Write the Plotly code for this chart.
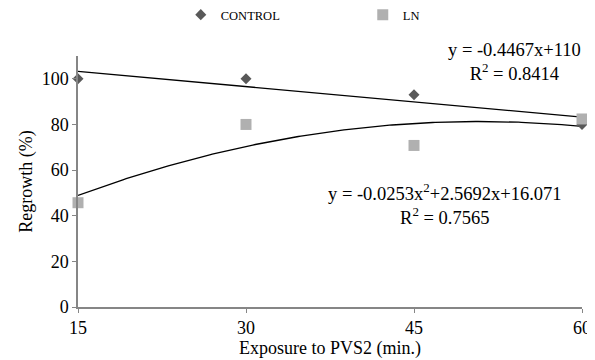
import numpy as np
import plotly.graph_objects as go

exposure = [15, 30, 45, 60]
control = [100, 100, 93, 80]
ln = [45.7, 80, 70.8, 82.4]
x_ticks = [15, 30, 45, 60]
y_ticks = [0, 20, 40, 60, 80, 100]

eq_control = "y = -0.4467x+110<br>R<sup>2</sup> = 0.8414"
eq_ln = "y = -0.0253x<sup>2</sup>+2.5692x+16.071<br>R<sup>2</sup> = 0.7565"

FONT = "Liberation Serif, Times New Roman, serif"

# trendlines fitted from the data (as the spreadsheet did)
c_lin = np.polyfit(exposure, control, 1)
c_quad = np.polyfit(exposure, ln, 2)
xs = np.linspace(min(exposure), max(exposure), 200)

fig = go.Figure()
fig.add_trace(go.Scatter(x=xs, y=np.polyval(c_lin, xs), mode="lines",
                         line=dict(color="black", width=1.3), showlegend=False,
                         hoverinfo="skip", cliponaxis=False))
fig.add_trace(go.Scatter(x=xs, y=np.polyval(c_quad, xs), mode="lines",
                         line=dict(color="black", width=1.3), showlegend=False,
                         hoverinfo="skip", cliponaxis=False))
fig.add_trace(go.Scatter(x=exposure, y=control, mode="markers", name="CONTROL",
                         marker=dict(symbol="diamond", size=8.5, color="#595959"),
                         cliponaxis=False))
fig.add_trace(go.Scatter(x=exposure, y=ln, mode="markers", name="LN",
                         marker=dict(symbol="square", size=11, color="#b0b0b0"),
                         cliponaxis=False))

# page has an 8px body margin: work in page pixels, then subtract it
OFF = 8
W, H = 595 - OFF, 360 - OFF
PL, PR, PT, PB = 78 - OFF, 582 - OFF, 56 - OFF, 307 - OFF

def px(xp):
    return (xp - OFF - PL) / (PR - PL)

def py(yp):
    return (PB - (yp - OFF)) / (PB - PT)

for txt, xp, yp in [(eq_control, 514, 62), (eq_ln, 445, 204)]:
    fig.add_annotation(x=px(xp), y=py(yp), xref="paper", yref="paper",
                       text=txt, showarrow=False, xanchor="center",
                       yanchor="middle", align="center",
                       font=dict(family=FONT, size=18.5, color="black"))

axis_common = dict(showline=True, linecolor="#868686", linewidth=1.5,
                   showgrid=False, zeroline=False, ticks="outside",
                   tickcolor="#868686", ticklen=4, tickwidth=1,
                   automargin=False,
                   tickfont=dict(family=FONT, size=18, color="black"))
fig.update_xaxes(range=[15, 60], tickvals=x_ticks,
                 title=dict(text="Exposure to PVS2 (min.)",
                            font=dict(family=FONT, size=18, color="black"),
                            standoff=2),
                 **axis_common)
fig.update_yaxes(range=[0, 110], tickvals=y_ticks,
                 title=dict(text="Regrowth (%)",
                            font=dict(family=FONT, size=18, color="black"),
                            standoff=4),
                 **axis_common)

fig.update_layout(
    width=W, height=H,
    margin=dict(l=PL, r=W - PR, t=PT, b=H - PB, autoexpand=False),
    plot_bgcolor="white", paper_bgcolor="white",
    font=dict(family=FONT, color="black"),
    legend=dict(orientation="h", x=0.565, xanchor="center",
                y=1 - (15 - OFF) / H, yanchor="middle", yref="container",
                font=dict(family=FONT, size=12.5, color="black"),
                entrywidth=137, itemwidth=30),
)

fig.write_html("out.html")
